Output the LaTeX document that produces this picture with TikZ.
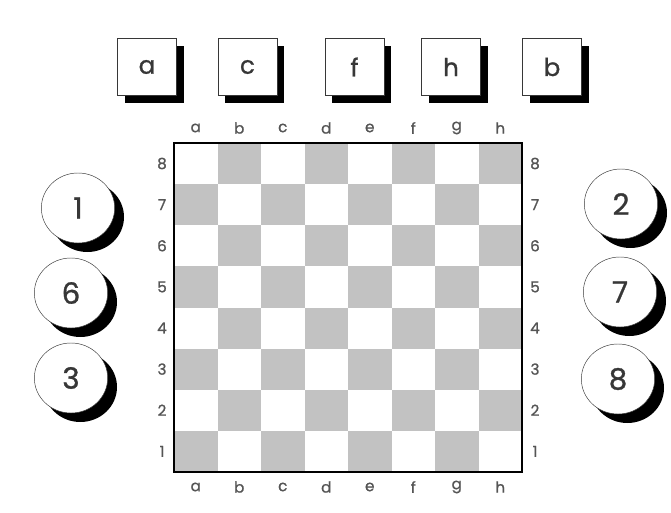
\documentclass[tikz,border=0pt]{standalone}
\usepackage{fontspec}
\setmainfont{Poppins}[BoldFont=*, BoldFeatures={FakeBold=1}]
\definecolor{sqdark}{RGB}{194,194,194}
\definecolor{inkgray}{RGB}{55,55,55}
\definecolor{labelgray}{RGB}{85,85,85}
\usetikzlibrary{positioning,shadows,shapes.geometric}

\begin{document}
\begin{tikzpicture}[x=0.03cm, y=-0.03cm,
  letterbox/.style={draw=inkgray, thick, fill=white, minimum width=1.77cm,
    minimum height=1.71cm, inner sep=0pt, text=inkgray,
    font=\fontsize{21}{24}\bfseries,
    drop shadow={shadow xshift=0.22cm, shadow yshift=-0.24cm, fill=black, opacity=1}},
  numdisc/.style={ellipse, draw=inkgray, fill=white, minimum width=2.2cm,
    minimum height=2.1cm, inner sep=0pt, text=inkgray,
    font=\fontsize{25}{28}\bfseries,
    drop shadow={shadow xshift=0.28cm, shadow yshift=-0.27cm, fill=black, opacity=1}},
  coordlabel/.style={text=labelgray, inner sep=1pt, font=\fontsize{13}{15}\bfseries}]

\useasboundingbox (0,0) rectangle (671,513);

% letter boxes
\node[letterbox] (box-a) at (147,67) {a};
\node[letterbox] (box-c) at (247.5,67) {c};
\node[letterbox] (box-f) at (354.5,67) {f};
\node[letterbox] (box-h) at (451,67) {h};
\node[letterbox] (box-b) at (552,67) {b};

% number discs
\node[numdisc] (disc-1) at (78,208) {1};
\node[numdisc] (disc-6) at (71,293) {6};
\node[numdisc] (disc-3) at (71,378) {3};
\node[numdisc] (disc-2) at (621,204) {2};
\node[numdisc] (disc-7) at (620,292) {7};
\node[numdisc] (disc-8) at (618,379) {8};

% board
\foreach \i in {0,...,7}
  \foreach \j in {0,...,7}{
    \pgfmathtruncatemacro{\odd}{mod(\i+\j,2)}
    \ifnum\odd=1
      \fill[sqdark] (174+43.5*\i,143+41.125*\j) rectangle +(43.5,41.125);
    \fi}
\draw[black, line width=1.2pt] (174,143) rectangle (522,472);

% files and ranks
\foreach \f [count=\i from 0] in {a,b,c,d,e,f,g,h}{
  \node[coordlabel] (top-\f) at (195.75+43.5*\i,128) {\f};
  \node[coordlabel] (bot-\f) at (195.75+43.5*\i,487) {\f};}
\foreach \r [count=\j from 0] in {8,7,...,1}{
  \node[coordlabel] (left-\r) at (162,163.5+41.125*\j) {\r};
  \node[coordlabel] (right-\r) at (535,163.5+41.125*\j) {\r};}

\end{tikzpicture}
\end{document}
